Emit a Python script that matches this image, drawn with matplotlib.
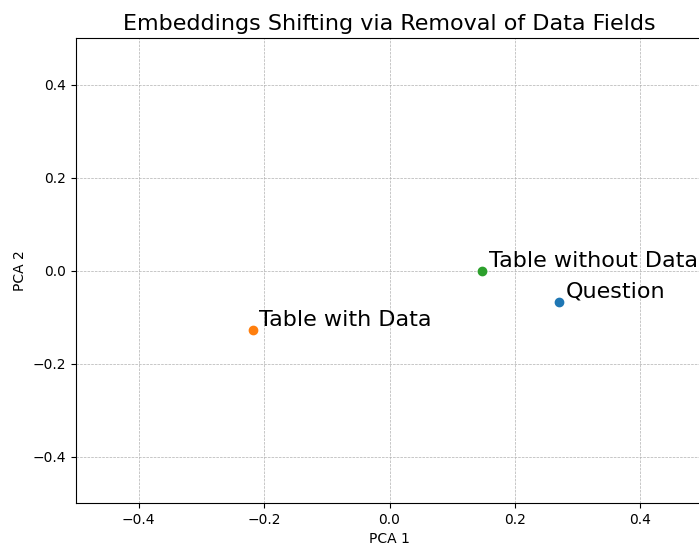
import matplotlib
matplotlib.use("Agg")
import matplotlib.pyplot as plt

labels = ["Question", "Table with Data", "Table without Data"]
pc1 = [0.271, -0.218, 0.148]
pc2 = [-0.067, -0.129, -0.002]
colors = ["#1f77b4", "#ff7f0e", "#2ca02c"]

fig = plt.figure(figsize=(6.99, 5.46), dpi=100)
ax = fig.add_axes([76/699, 43/546, 627/699, 465/546])
for x, y, lab, c in zip(pc1, pc2, labels, colors):
    ax.scatter(x, y, color=c, s=36, zorder=3)
    ax.text(x + 0.01, y + 0.01, lab, fontsize=16)
ax.set_xlim(-0.5, 0.5)
ax.set_ylim(-0.5, 0.5)
ax.set_xticks([-0.4, -0.2, 0.0, 0.2, 0.4])
ax.set_yticks([-0.4, -0.2, 0.0, 0.2, 0.4])
ax.grid(True, linestyle="--", linewidth=0.5, color="#b0b0b0")
ax.set_xlabel("PCA 1")
ax.set_ylabel("PCA 2")
ax.set_title("Embeddings Shifting via Removal of Data Fields", fontsize=16)
fig.savefig("out.png", dpi=100)
